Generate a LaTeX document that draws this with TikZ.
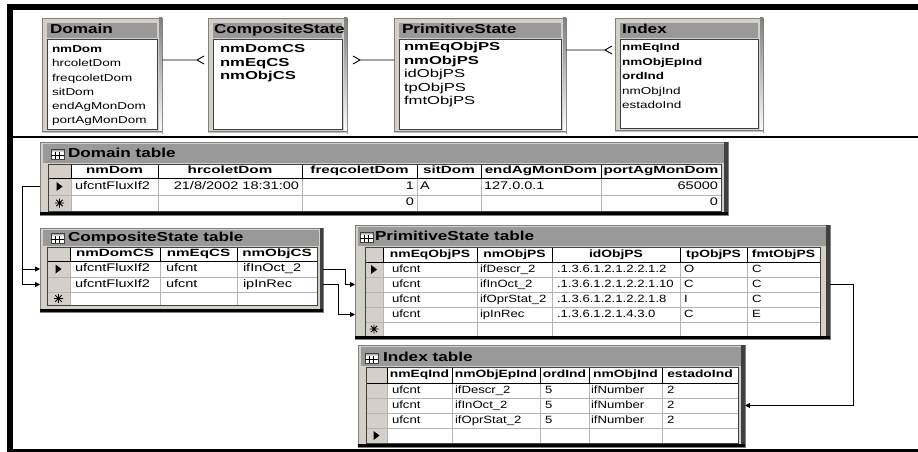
\documentclass[tikz,border=0pt]{standalone}
\usepackage{fontspec}
\setmainfont{Liberation Sans}
\newfontfamily\cellfam[FakeStretch=1.25]{Liberation Sans}
\newfontfamily\hdrfam[FakeStretch=1.32]{Liberation Sans}
\newfontfamily\listfam[FakeStretch=1.35]{Liberation Sans}
\newfontfamily\bigfam[FakeStretch=1.45]{Liberation Sans}
\newcommand\cellf{\cellfam\fontsize{10.5}{12}\selectfont}
\newcommand\cellgf{\hdrfam\fontsize{11}{13}\selectfont}
\newcommand\hdrf{\hdrfam\bfseries\fontsize{10.5}{12}\selectfont}
\newcommand\hdrgf{\bigfam\bfseries\fontsize{10.5}{12}\selectfont}
\newcommand\ttlf{\hdrfam\bfseries\fontsize{13}{15}\selectfont}
\newcommand\listf{\listfam\fontsize{10}{12}\selectfont}
\newcommand\listbf{\listfam\bfseries\fontsize{10}{12}\selectfont}
\newcommand\bigf{\bigfam\fontsize{11.5}{13}\selectfont}
\newcommand\bigbf{\bigfam\bfseries\fontsize{11.5}{13}\selectfont}
\usetikzlibrary{arrows.meta,fit}
\definecolor{face}{HTML}{D4D0C8}
\definecolor{bar}{HTML}{999999}
\definecolor{gline}{HTML}{B4B4B4}
\definecolor{shade}{HTML}{808080}
\definecolor{deep}{HTML}{404040}
\tikzset{
  box/.style={fit={#1}, inner sep=0pt, outer sep=0pt, rectangle},
  frameS/.style={fill=face, draw=shade, line width=0.6pt},
  barS/.style={fill=bar},
  listS/.style={fill=white, draw=deep, line width=0.8pt},
  txt/.style={inner sep=0pt, outer sep=0pt, text=black, text height=7.5pt, text depth=2pt},
  cellL/.style={txt, font=\cellf, anchor=west},
  cellR/.style={txt, font=\cellf, anchor=east},
  gcellL/.style={txt, font=\cellgf, anchor=west},
  gcellR/.style={txt, font=\cellgf, anchor=east},
  hdrS/.style={txt, font=\hdrf, anchor=center},
  ghdrS/.style={txt, font=\hdrgf, anchor=center},
  ttlS/.style={txt, font=\ttlf, anchor=west, text height=9pt, text depth=2.5pt},
  fldS/.style={txt, font=\listf, anchor=west},
  fldB/.style={txt, font=\listbf, anchor=west},
  bigS/.style={txt, font=\bigf, anchor=west},
  bigB/.style={txt, font=\bigbf, anchor=west},
  conn/.style={draw=black, line width=0.9pt},
  arr/.style={conn, -{Triangle[length=5pt,width=5pt]}},
}
\newcommand\dgrid[8]{%
  \fill[white] (#1,#2) rectangle (#5,#6);
  \fill[face] (#1,#2) rectangle (#3,#6);
  \foreach \yy in {#8} {\draw[gline, line width=0.6pt] (#1,\yy) -- (#5,\yy);}
  \foreach \xx in {#7} {\draw[gline, line width=0.6pt] (\xx,#4) -- (\xx,#6);}
  \foreach \xx in {#7} {\draw[shade, line width=0.8pt] (\xx,#2) -- (\xx,#4);}
  \draw[shade, line width=0.7pt] (#1,#4) -- (#5,#4);
  \draw[deep, line width=0.8pt] (#1,#2) rectangle (#5,#6);
}
\newcommand\selarrow[2]{\fill[black] (#1-3,#2-4.5) -- (#1+3,#2) -- (#1-3,#2+4.5) -- cycle;}
\newcommand\selstar[2]{\draw[black, line width=0.9pt] (#1-4.5,#2) -- (#1+4.5,#2) (#1,#2-4.5) -- (#1,#2+4.5) (#1-3.2,#2-3.2) -- (#1+3.2,#2+3.2) (#1-3.2,#2+3.2) -- (#1+3.2,#2-3.2);}
\newcommand\tblicon[2]{%
  \fill[white] (#1,#2) rectangle (#1+13,#2+10);
  \fill[shade] (#1,#2) rectangle (#1+13,#2+3);
  \draw[deep, line width=0.6pt] (#1,#2) rectangle (#1+13,#2+10);
  \draw[shade, line width=0.5pt] (#1,#2+6) -- (#1+13,#2+6) (#1+4.5,#2+3) -- (#1+4.5,#2+10) (#1+8.5,#2+3) -- (#1+8.5,#2+10);}
\begin{document}
\begin{tikzpicture}[x=1pt, y=-1pt]
\useasboundingbox (0,0) rectangle (918,452);
\fill[white] (0,0) rectangle (918,452);
% outer frame
\fill[black] (7,4) rectangle (918,10);
\fill[black] (7,4) rectangle (13,452);
\fill[black] (13,448.8) rectangle (918,451.5);
\draw[black, line width=1.5pt] (13,137) -- (918,137);

% ---------- entity boxes ----------
\node[box={(42,18) (162,133)}, frameS] (DomE) {};
\fill[shade] (159,18) rectangle (162,133); \fill[shade] (42,131) rectangle (162,133);
\node[box={(47,23) (157,38)}, barS] (DomT) {};
\node[box={(47,39) (157,129)}, listS] (DomL) {};
\node[ttlS] (DomN) at (50,30.5) {Domain};
\node[fldB] (df1) at (52,50) {nmDom};
\node[fldS] (df2) at (52,64.2) {hrcoletDom};
\node[fldS] (df3) at (52,78.4) {freqcoletDom};
\node[fldS] (df4) at (52,92.6) {sitDom};
\node[fldS] (df5) at (52,106.8) {endAgMonDom};
\node[fldS] (df6) at (52,121) {portAgMonDom};

\node[box={(208,18) (347,133)}, frameS] (CSE) {};
\fill[shade] (344,18) rectangle (347,133); \fill[shade] (208,131) rectangle (347,133);
\node[box={(213,23) (342,38)}, barS] (CST) {};
\node[box={(213,39) (342,129)}, listS] (CSL) {};
\node[ttlS] (CSN) at (214,30.5) {CompositeState};
\node[bigB] (cf1n) at (220,50) {nmDomCS};
\node[bigB] (cf2n) at (220,63.5) {nmEqCS};
\node[bigB] (cf3n) at (220,77) {nmObjCS};

\node[box={(394,18) (566,133)}, frameS] (PSE) {};
\fill[shade] (563,18) rectangle (566,133); \fill[shade] (394,131) rectangle (566,133);
\node[box={(399,23) (561,38)}, barS] (PST) {};
\node[box={(399,39) (561,129)}, listS] (PSL) {};
\node[ttlS] (PSN) at (402,30.5) {PrimitiveState};
\node[bigB] (pf1) at (404,48) {nmEqObjPS};
\node[bigB] (pf2) at (404,61.5) {nmObjPS};
\node[bigS] (pf3) at (404,75) {idObjPS};
\node[bigS] (pf4) at (404,88.5) {tpObjPS};
\node[bigS] (pf5) at (404,102) {fmtObjPS};

\node[box={(615,18) (763,132)}, frameS] (IxE) {};
\fill[shade] (760,18) rectangle (763,132); \fill[shade] (615,130) rectangle (763,132);
\node[box={(620,23) (758,38)}, barS] (IxT) {};
\node[box={(620,39) (758,128)}, listS] (IxL) {};
\node[ttlS] (IxN) at (622,30.5) {Index};
\node[fldB] (if1) at (622,48) {nmEqInd};
\node[fldB] (if2) at (622,62.5) {nmObjEpInd};
\node[fldB] (if3) at (622,77) {ordInd};
\node[fldS] (if4) at (622,91.5) {nmObjInd};
\node[fldS] (if5) at (622,106) {estadoInd};

% relationships
\coordinate (cfa) at (197,60);
\draw[conn] (DomE.east |- cfa) -- (cfa) -- ++(7,-4) (cfa) -- ++(7,4);
\coordinate (cfb) at (360,60);
\draw[conn] (PSE.west |- cfb) -- (cfb) -- ++(-7,-4) (cfb) -- ++(-7,4);
\coordinate (cfc) at (605,50);
\draw[conn] (PSE.east |- cfc) -- (cfc) -- ++(7,-4) (cfc) -- ++(7,4);

% ---------- Domain table ----------
\node[box={(40,142) (728,215)}, frameS] (DT) {};
\node[box={(43,144) (724,163)}, barS] (DTbar) {};
\tblicon{51}{149}
\node[ttlS] (DTt) at (68,154) {Domain table};
\dgrid{48}{164}{71}{178}{721}{211}{71,158,302,417,481,601}{178,195}
\fill[deep] (724,142) rectangle (728,215);
\fill[black] (40,211.8) rectangle (728,215);
\node[box={(48,178) (721,195)}] (D1) {};
\node[ghdrS] (dh1) at (114.5,171) {nmDom};
\node[ghdrS] (dh2) at (230,171) {hrcoletDom};
\node[ghdrS] (dh3) at (359.5,171) {freqcoletDom};
\node[ghdrS] (dh4) at (449,171) {sitDom};
\node[ghdrS] (dh5) at (541,171) {endAgMonDom};
\node[ghdrS] (dh6) at (661,171) {portAgMonDom};
\selarrow{59.5}{186.5}
\node[gcellL] (d11) at (75,186.5) {ufcntFluxIf2};
\node[gcellR] (d12) at (299,186.5) {21/8/2002 18:31:00};
\node[gcellR] (d13) at (414,186.5) {1};
\node[gcellL] (d14) at (420,186.5) {A};
\node[gcellL] (d15) at (484,186.5) {127.0.0.1};
\node[gcellR] (d16) at (718,186.5) {65000};
\selstar{59.5}{203}
\node[gcellR] (d23) at (414,203) {0};
\node[gcellR] (d26) at (718,203) {0};

% ---------- CompositeState table ----------
\node[box={(40,228) (323,312)}, frameS] (CT) {};
\node[box={(43,230) (319,246)}, barS] (CTbar) {};
\tblicon{51}{233}
\node[ttlS] (CTt) at (68,238) {CompositeState table};
\dgrid{47}{247}{70}{261}{317}{305}{70,160,237}{261,277,292}
\fill[deep] (319.5,228) rectangle (323,312);
\fill[black] (40,308.5) rectangle (323,312);
\node[box={(47,261) (317,277)}] (C1) {};
\node[box={(47,277) (317,292)}] (C2) {};
\node[ghdrS] (ch1) at (115,254) {nmDomCS};
\node[ghdrS] (ch2) at (198.5,254) {nmEqCS};
\node[ghdrS] (ch3) at (277,254) {nmObjCS};
\selarrow{58.5}{269}
\node[gcellL] (c11) at (75,269) {ufcntFluxIf2};
\node[gcellL] (c12) at (166,269) {ufcnt};
\node[gcellL] (c13) at (243,269) {ifInOct\_2};
\node[gcellL] (c21) at (75,284.5) {ufcntFluxIf2};
\node[gcellL] (c22) at (166,284.5) {ufcnt};
\node[gcellL] (c23) at (243,284.5) {ipInRec};
\selstar{58.5}{298.5}

% ---------- PrimitiveState table ----------
\node[box={(355,225) (830,339)}, frameS] (PT) {};
\node[box={(358,227) (826,246)}, barS] (PTbar) {};
\tblicon{360}{232}
\node[ttlS] (PTt) at (375,237) {PrimitiveState table};
\dgrid{365}{247}{383}{262}{820}{336}{383,477,552,680,747}{262,277,292,307,322}
\fill[deep] (826,225) rectangle (830,339);
\fill[black] (355,336.3) rectangle (830,339);
\node[box={(365,277) (820,292)}] (P2) {};
\node[box={(365,307) (820,322)}] (P4) {};
\node[hdrS] (ph1) at (430,254.5) {nmEqObjPS};
\node[hdrS] (ph2) at (514.5,254.5) {nmObjPS};
\node[hdrS] (ph3) at (616,254.5) {idObjPS};
\node[hdrS] (ph4) at (713.5,254.5) {tpObjPS};
\node[hdrS] (ph5) at (783.5,254.5) {fmtObjPS};
\selarrow{374}{269.5}
\node[cellL] (p11) at (392,269.5) {ufcnt};
\node[cellL] (p12) at (480,269.5) {ifDescr\_2};
\node[cellL] (p13) at (557,269.5) {.1.3.6.1.2.1.2.2.1.2};
\node[cellL] (p14) at (684,269.5) {O};
\node[cellL] (p15) at (752,269.5) {C};
\node[cellL] (p21) at (392,284.5) {ufcnt};
\node[cellL] (p22) at (480,284.5) {ifInOct\_2};
\node[cellL] (p23) at (557,284.5) {.1.3.6.1.2.1.2.2.1.10};
\node[cellL] (p24) at (684,284.5) {C};
\node[cellL] (p25) at (752,284.5) {C};
\node[cellL] (p31) at (392,299.5) {ufcnt};
\node[cellL] (p32) at (480,299.5) {ifOprStat\_2};
\node[cellL] (p33) at (557,299.5) {.1.3.6.1.2.1.2.2.1.8};
\node[cellL] (p34) at (684,299.5) {I};
\node[cellL] (p35) at (752,299.5) {C};
\node[cellL] (p41) at (392,314.5) {ufcnt};
\node[cellL] (p42) at (480,314.5) {ipInRec};
\node[cellL] (p43) at (557,314.5) {.1.3.6.1.2.1.4.3.0};
\node[cellL] (p44) at (684,314.5) {C};
\node[cellL] (p45) at (752,314.5) {E};
\selstar{374}{329}

% ---------- Index table ----------
\node[box={(358,345) (745,447)}, frameS] (IT) {};
\node[box={(361,347) (741,366)}, barS] (ITbar) {};
\tblicon{365}{353}
\node[ttlS] (ITt) at (383,358) {Index table};
\dgrid{366}{367}{387}{383}{738}{443}{387,452,540,589,662}{383,398,413,428}
\fill[deep] (741,345) rectangle (745,447);
\fill[black] (358,443.8) rectangle (745,447);
\node[box={(366,398) (738,413)}] (I2) {};
\node[hdrS] (ih1) at (419.5,375) {nmEqInd};
\node[hdrS] (ih2) at (496,375) {nmObjEpInd};
\node[hdrS] (ih3) at (564.5,375) {ordInd};
\node[hdrS] (ih4) at (625.5,375) {nmObjInd};
\node[hdrS] (ih5) at (700,375) {estadoInd};
\node[cellL] (i11) at (392,390.5) {ufcnt};
\node[cellL] (i12) at (455,390.5) {ifDescr\_2};
\node[cellL] (i13) at (545,390.5) {5};
\node[cellL] (i14) at (591,390.5) {ifNumber};
\node[cellL] (i15) at (667,390.5) {2};
\node[cellL] (i21) at (392,405.5) {ufcnt};
\node[cellL] (i22) at (455,405.5) {ifInOct\_2};
\node[cellL] (i23) at (545,405.5) {5};
\node[cellL] (i24) at (591,405.5) {ifNumber};
\node[cellL] (i25) at (667,405.5) {2};
\node[cellL] (i31) at (392,420.5) {ufcnt};
\node[cellL] (i32) at (455,420.5) {ifOprStat\_2};
\node[cellL] (i33) at (545,420.5) {5};
\node[cellL] (i34) at (591,420.5) {ifNumber};
\node[cellL] (i35) at (667,420.5) {2};
\selarrow{376.5}{435.5}

% ---------- connectors between tables ----------
\coordinate (busL) at (22,0);
\coordinate (busA) at (345,0);
\coordinate (busB) at (338,0);
\coordinate (busR) at (853,0);
\draw[arr] (DT.west |- D1) -| (busL |- C2) -- (CT.west |- C2);
\draw[arr] (busL |- C1) -- (CT.west |- C1);
\draw[arr] (CT.east |- C1) -| (busA |- P2) -- (PT.west |- P2);
\draw[arr] (CT.east |- C2) -| (busB |- P4) -- (PT.west |- P4);
\draw[arr] (PT.east |- P2) -| (busR |- I2) -- (IT.east |- I2);
\end{tikzpicture}
\end{document}
